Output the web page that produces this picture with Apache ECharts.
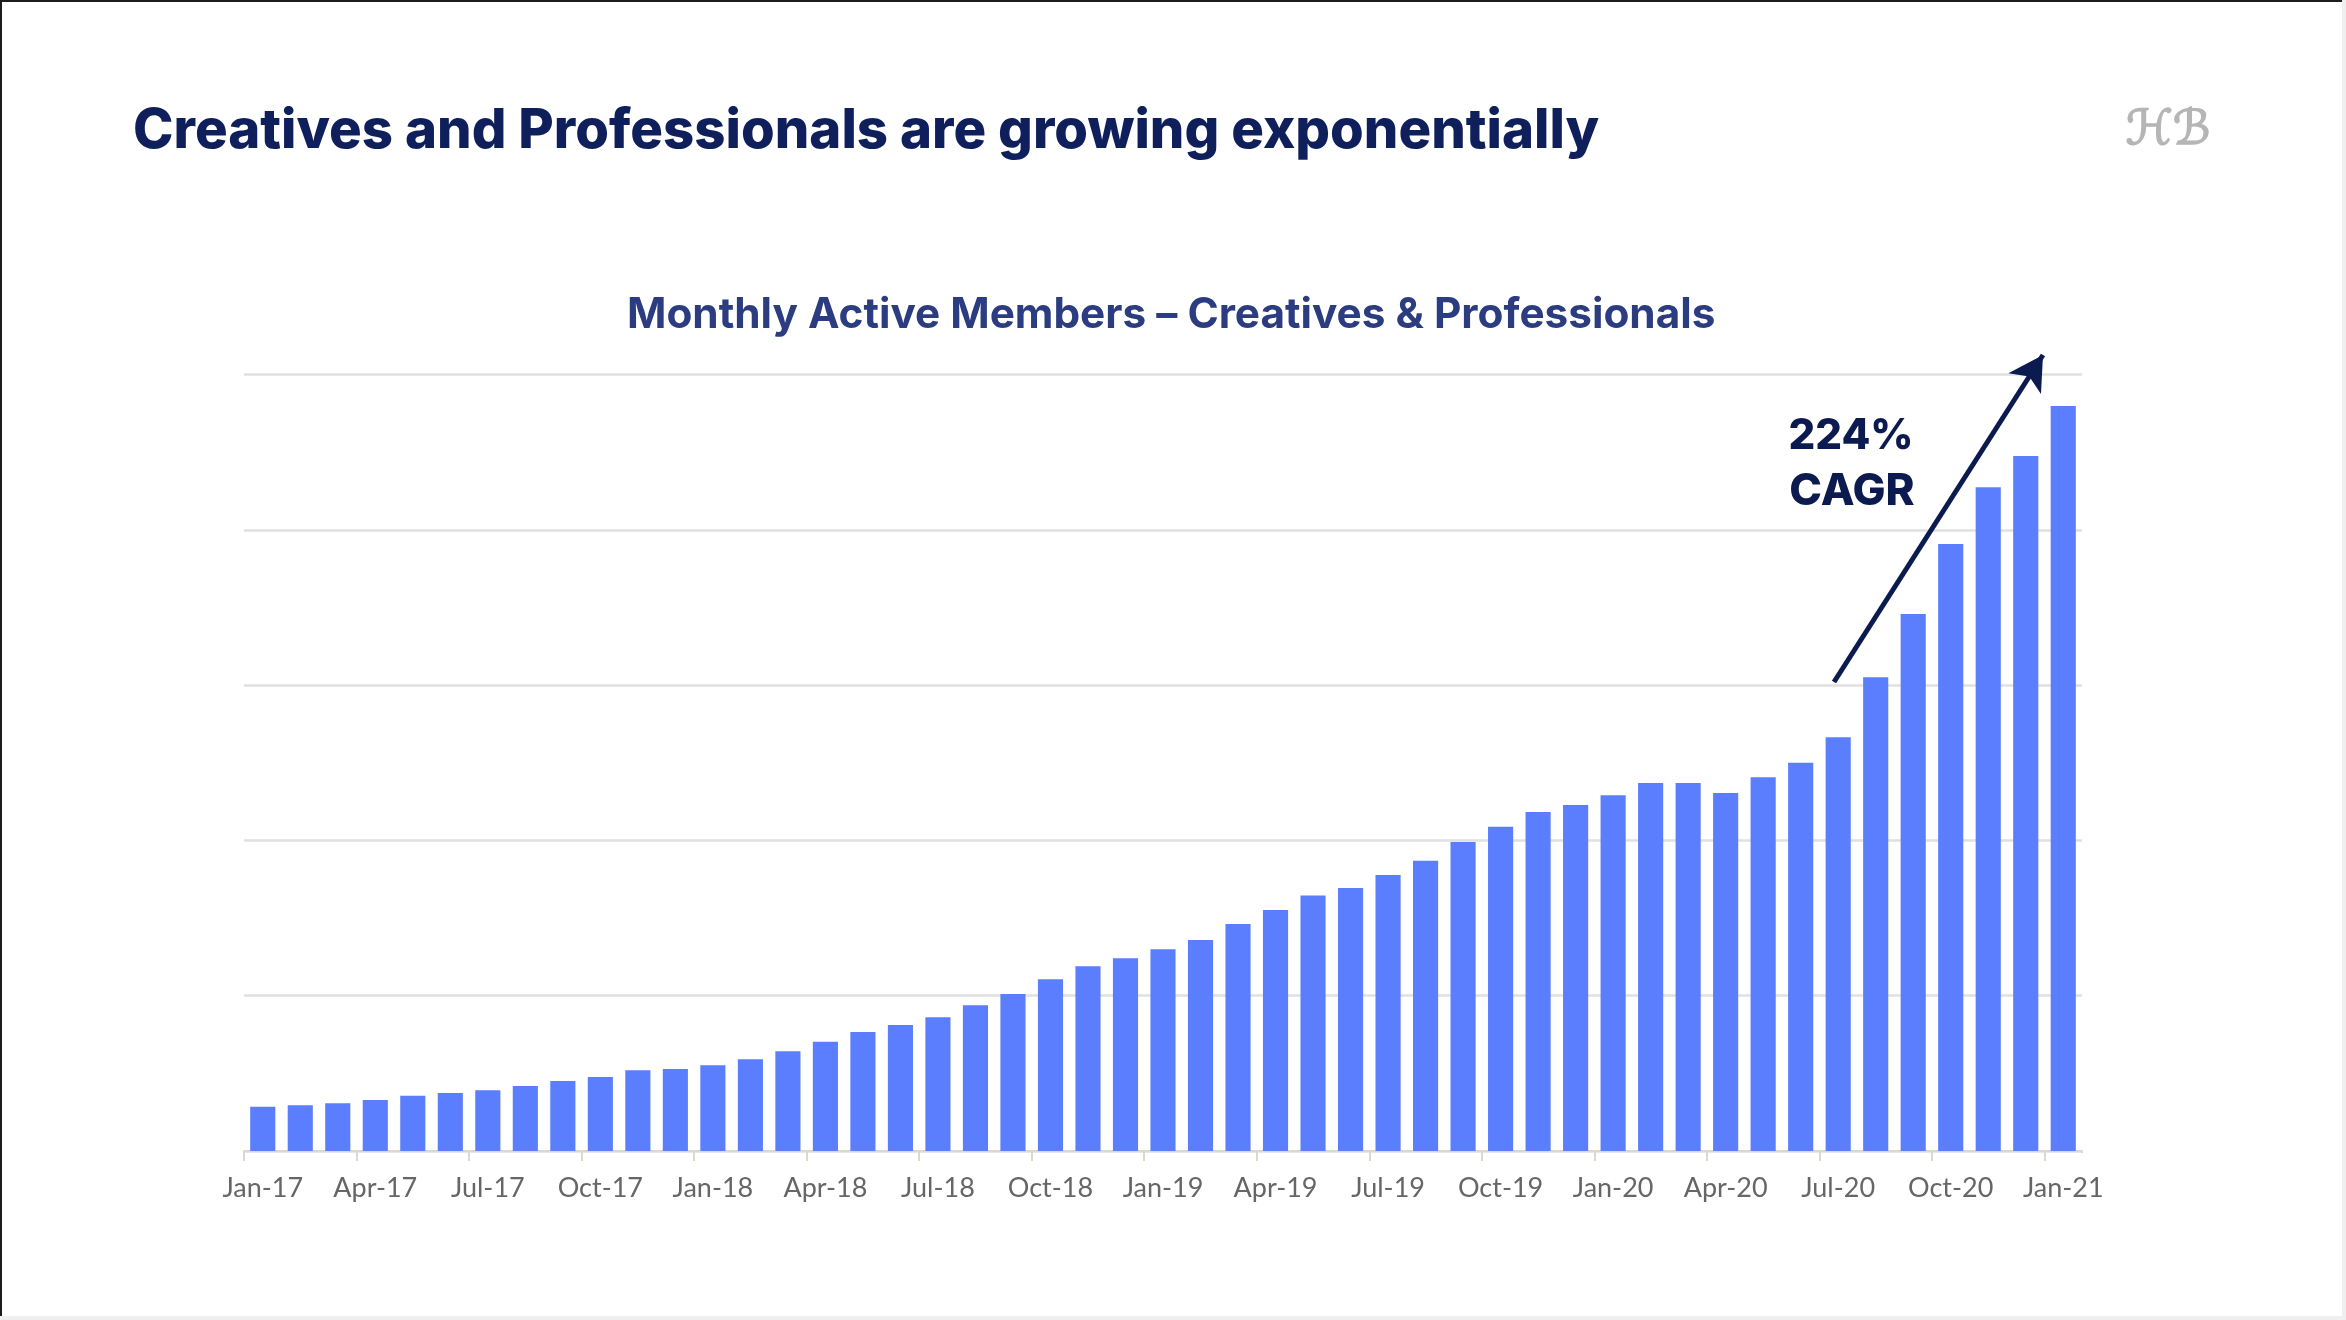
<!DOCTYPE html>
<html>
<head>
<meta charset="utf-8">
<title>Monthly Active Members</title>
<script src="https://cdn.jsdelivr.net/npm/echarts@6/dist/echarts.min.js"></script>
<style>
  html, body { margin: 0; padding: 0; background: #fff; }
  #main { width: 2346px; height: 1320px; }
</style>
</head>
<body>
<div id="main"></div>
<script>
// months along the x axis
var months = [
  'Jan-17','Feb-17','Mar-17','Apr-17','May-17','Jun-17','Jul-17','Aug-17','Sep-17','Oct-17','Nov-17','Dec-17',
  'Jan-18','Feb-18','Mar-18','Apr-18','May-18','Jun-18','Jul-18','Aug-18','Sep-18','Oct-18','Nov-18','Dec-18',
  'Jan-19','Feb-19','Mar-19','Apr-19','May-19','Jun-19','Jul-19','Aug-19','Sep-19','Oct-19','Nov-19','Dec-19',
  'Jan-20','Feb-20','Mar-20','Apr-20','May-20','Jun-20','Jul-20','Aug-20','Sep-20','Oct-20','Nov-20','Dec-20',
  'Jan-21'
];
// the original has no y labels so the unit is arbitrary
var members = [
  28.5, 29.4, 30.7, 32.8, 35.6, 37.3, 39.1, 41.9, 45.1, 47.6, 52, 52.8,
  55.2, 59, 64.2, 70.4, 76.6, 81.1, 86.1, 93.8, 101.1, 110.6, 118.9, 124.1,
  129.9, 135.9, 146.2, 155.2, 164.6, 169.3, 177.7, 186.9, 199, 208.8, 218.3, 222.8,
  229, 237, 237, 230.5, 240.6, 250, 266.4, 305, 345.8, 390.9, 427.4, 447.5,
  479.7
];

var headFont = 'Inter';
var chart = echarts.init(document.getElementById('main'));

var option = {
  animation: false,
  backgroundColor: '#fff',
  title: [
    {
      text: 'Creatives and Professionals are growing exponentially',
      left: 128, top: 99,
      textStyle: { fontFamily: headFont, fontSize: 54.5, fontWeight: 800, color: '#0f1f5b' }
    },
    {
      text: 'Monthly Active Members – Creatives & Professionals',
      left: 622, top: 289,
      textStyle: { fontFamily: headFont, fontSize: 42.3, fontWeight: 700, color: '#2c3c80' }
    }
  ],
  grid: { left: 244, top: 374.5, width: 1838, height: 776.5 },
  xAxis: {
    type: 'category',
    data: months,
    axisLine: { show: true, lineStyle: { color: '#d9d9d0', width: 2 } },
    axisTick: { show: true, interval: 2, length: 10, lineStyle: { color: '#d9d9d0', width: 2 } },
    axisLabel: { interval: 2, margin: 24, fontFamily: 'Lato', fontSize: 27, color: '#666' }
  },
  yAxis: {
    type: 'value',
    min: 0,
    max: 500,
    interval: 100,
    axisLine: { show: false },
    axisTick: { show: false },
    axisLabel: { show: false },
    splitLine: { lineStyle: { color: '#e0e0e0', width: 2.5 } }
  },
  series: [{
    type: 'bar',
    data: members,
    barCategoryGap: '33%',
    itemStyle: { color: '#5b7eff' },
    markLine: {
      silent: true,
      symbol: ['none', 'arrow'],
      symbolSize: [29, 34],
      label: { show: false },
      lineStyle: { color: '#0b1a4f', width: 5, type: 'solid' },
      data: [[{ x: 1834, y: 682 }, { x: 2043, y: 355 }]]
    }
  }],
  graphic: [
    { type: 'text', x: 1851, y: 436, style: { text: '224%', align: 'center', verticalAlign: 'middle', fontFamily: headFont, fontSize: 42, fontWeight: 800, fill: '#0b1a4f' } },
    { type: 'text', x: 1852, y: 492, style: { text: 'CAGR', align: 'center', verticalAlign: 'middle', fontFamily: headFont, fontSize: 44, fontWeight: 800, fill: '#0b1a4f' } },
    // logo mark top right
    { type: 'text', x: 2168, y: 132, style: { text: 'ℋℬ', align: 'center', verticalAlign: 'middle', fontFamily: 'DejaVu Sans', fontSize: 48, fill: '#b5b5b5', stroke: '#b5b5b5', lineWidth: 1.5 } },
    // the axis adds a tick at its far end, the original has none there
    { type: 'rect', z: 100, x: 2079, y: 1153, shape: { width: 6, height: 11 }, style: { fill: '#fff' } },
    // edges of the slide
    { type: 'rect', left: 0, top: 0, shape: { width: 2, height: 1320 }, style: { fill: '#1c1c1c' } },
    { type: 'rect', left: 0, top: 0, shape: { width: 2346, height: 2 }, style: { fill: '#1c1c1c' } },
    { type: 'rect', left: 2342, top: 0, shape: { width: 4, height: 1320 }, style: { fill: '#efefef' } },
    { type: 'rect', left: 0, top: 1316, shape: { width: 2346, height: 4 }, style: { fill: '#efefef' } }
  ]
};

chart.setOption(option);
</script>
</body>
</html>
